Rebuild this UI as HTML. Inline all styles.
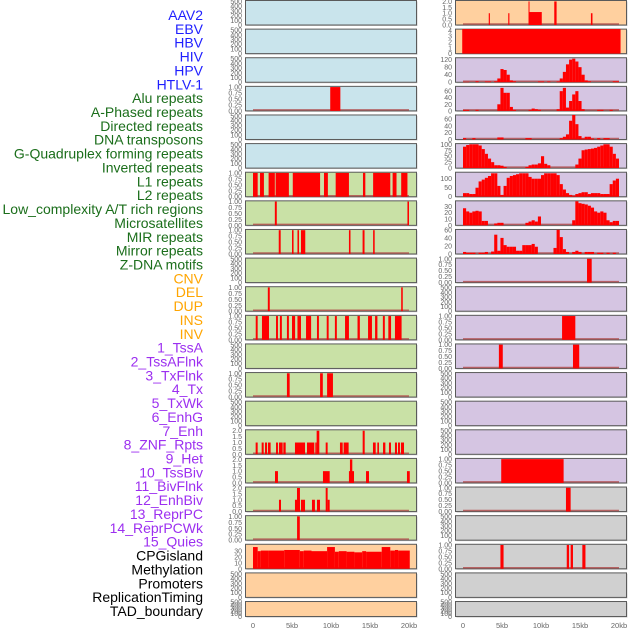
<!DOCTYPE html>
<html><head><meta charset="utf-8"><style>
html,body{margin:0;padding:0;background:#fff;width:630px;height:630px;overflow:hidden}
svg text{font-family:"Liberation Sans",sans-serif}
</style></head><body>
<svg id="c" width="630" height="630" viewBox="0 0 630 630" xmlns="http://www.w3.org/2000/svg"></svg>
<script>
// ---------- data ----------
const trackLabels = ["AAV2","EBV","HBV","HIV","HPV","HTLV-1","Alu repeats","A-Phased repeats","Directed repeats","DNA transposons","G-Quadruplex forming repeats","Inverted repeats","L1 repeats","L2 repeats","Low_complexity A/T rich regions","Microsatellites","MIR repeats","Mirror repeats","Z-DNA motifs","CNV","DEL","DUP","INS","INV","1_TssA","2_TssAFlnk","3_TxFlnk","4_Tx","5_TxWk","6_EnhG","7_Enh","8_ZNF_Rpts","9_Het","10_TssBiv","11_BivFlnk","12_EnhBiv","13_ReprPC","14_ReprPCWk","15_Quies","CPGisland","Methylation","Promoters","ReplicationTiming","TAD_boundary"];
const labelGroups = ["virus","virus","virus","virus","virus","virus","repeat","repeat","repeat","repeat","repeat","repeat","repeat","repeat","repeat","repeat","repeat","repeat","repeat","sv","sv","sv","sv","sv","chrom","chrom","chrom","chrom","chrom","chrom","chrom","chrom","chrom","chrom","chrom","chrom","chrom","chrom","chrom","other","other","other","other","other"];
const xTickKb = [0,5,10,15,20];
const xTickLabels = ["0","5kb","10kb","15kb","20kb"];
const ticksEmpty = ["0","100","200","300","400","500"];
const ticks01 = ["0.00","0.25","0.50","0.75","1.00"];
const ticks02 = ["0.0","0.5","1.0","1.5","2.0"];

// segments: [startKb, endKb, value]
const segL4 = [[9.9,11.2,1]];
const segL7 = [[0,0.6,1],[0.9,1.4,1],[2.0,2.8,1],[2.9,4.6,1],[5.1,8.6,1],[9.1,9.6,1],[10.6,12.3,1],[14.1,14.4,1],[15.4,17.6,1],[17.9,18.4,1],[19.0,19.8,1]];
const segL8 = [[2.8,3.05,1],[19.8,20.0,1]];
const segL9 = [[3.3,3.55,1],[5.0,5.2,1],[5.7,5.9,1],[6.15,6.7,1],[12.3,12.5,1],[14.05,14.3,1],[15.4,15.6,1]];
const segL11 = [[1.9,2.15,1],[19.0,19.2,1]];
const segL12 = [[0.35,0.6,1],[1.15,2.05,1],[2.95,3.2,1],[3.45,3.7,1],[4.35,4.6,1],[5.0,5.4,1],[5.7,6.15,1],[6.8,7.45,1],[8.2,8.45,1],[9.45,9.7,1],[10.5,10.75,1],[11.8,12.3,1],[13.4,13.7,1],[14.75,15.25,1],[15.65,15.95,1],[16.65,16.9,1],[17.35,17.7,1],[18.2,19.05,1]];
const segL14 = [[4.35,4.7,1],[8.6,8.95,1],[9.5,10.25,1]];
const segL16 = [[0.34,0.6,1],[1.11,1.37,1],[1.54,1.8,1],[1.92,2.26,1],[2.95,3.2,1],[3.33,3.8,1],[3.89,4.19,1],[5.38,6.67,1],[6.92,7.86,1],[7.99,8.16,1],[8.16,8.5,2],[9.32,9.57,1],[11.15,11.5,1],[11.62,12.26,1],[14.06,14.32,2],[15.38,15.73,1],[15.94,16.15,1],[16.67,16.97,1],[17.43,17.69,1],[18.2,18.46,1],[18.59,18.84,1],[18.97,19.36,1]];
const segL17 = [[2.82,3.2,1],[8.97,9.83,1],[12.3,12.95,1],[12.43,12.73,2],[14.49,14.87,1],[19.74,20.1,1]];
const segL18 = [[3.33,3.59,1],[5.38,6.02,1],[5.64,6.02,2],[6.15,6.67,1],[7.56,7.94,1],[8.2,8.59,1],[9.32,9.57,2],[9.57,9.83,1]];
const segL19 = [[5.65,6.0,1]];
const segL20 = [[0,0.6,37],[0.6,1.0,30],[1.0,2.0,31],[2.0,4.0,31],[4.0,6.0,32],[6.0,6.5,30],[6.5,7.5,31],[7.5,9.5,30],[9.5,10.5,37],[10.5,11.0,29],[11.0,12.0,30],[12.0,13.0,29],[13.0,14.0,28],[14.0,14.5,30],[14.5,16.5,29],[16.5,17.6,37],[17.6,18.2,31],[18.2,18.6,32],[18.6,20.1,31]];
const segR1 = [[3.3,3.45,1],[5.8,5.95,1],[8.4,8.5,2],[8.5,10.1,1.1],[11.7,12.0,2],[16.4,16.6,1]];
const segR2 = [[-0.1,20.2,4.2]];
const segR10 = [[15.9,16.5,1]];
const segR12 = [[12.7,14.4,1]];
const segR13 = [[4.6,5.1,1],[14.1,14.9,1]];
const segR17 = [[4.9,12.9,1]];
const segR18 = [[13.2,13.8,1]];
const segR20 = [[4.8,5.2,1],[13.3,13.6,1],[13.8,14.1,1],[15.3,15.7,1]];

// histogram bins (0.4kb each, 0-20kb)
const binR3 = [2,2,0,0,5,0,0,4,4,0,5,20,70,65,40,10,5,0,0,0,0,0,0,0,4,4,0,4,0,0,4,20,55,95,120,125,110,80,40,10,5,0,0,0,0,0,0,0,5,5];
const binR4 = [3,3,0,0,3,0,0,0,0,0,0,20,70,55,55,12,3,0,0,0,0,3,7,5,3,0,0,0,0,0,5,60,70,10,30,50,60,30,5,0,0,0,0,3,3,0,0,3,0,0];
const binR5 = [4,0,0,4,0,0,0,0,0,0,0,6,6,0,0,0,0,0,0,0,4,4,0,0,0,0,0,0,0,0,0,4,8,15,55,72,45,10,3,8,8,3,0,4,0,4,4,0,0,0];
const binR6 = [90,97,100,100,100,95,80,60,40,25,12,12,10,5,0,0,0,0,0,0,5,12,15,15,20,50,18,12,0,0,0,0,0,0,0,0,15,40,75,78,80,82,85,90,95,100,100,90,60,40];
const binR7 = [20,20,15,15,50,85,95,105,115,130,130,60,10,60,105,115,120,125,130,130,130,110,100,100,100,120,130,130,130,130,120,70,40,20,10,5,15,20,25,25,15,20,20,20,15,15,15,70,90,100];
const binR8 = [27,22,20,22,23,22,7,7,0,0,3,4,4,0,0,0,0,0,0,0,4,6,8,6,14,0,0,0,0,0,0,0,0,0,0,8,38,35,34,33,31,28,22,20,22,20,8,5,7,7];
const binR9 = [5,3,3,3,0,3,3,5,0,6,48,8,40,22,18,18,18,8,8,22,22,22,25,18,0,0,0,0,0,15,60,42,12,5,0,5,8,5,0,5,5,5,0,3,3,0,3,0,3,0];
const binWidthKb = 0.4;

const BG = {blue:"#c9e4ec",green:"#c9e1a6",orange:"#ffd09f",purple:"#d5c5e2",gray:"#d0d0d0"};
const panels = [
 ["L",0,"blue",ticksEmpty,520,null,null],["L",1,"blue",ticksEmpty,520,null,null],["L",2,"blue",ticksEmpty,520,null,null],
 ["L",3,"blue",ticks01,1.03,segL4,null],["L",4,"blue",ticksEmpty,520,null,null],["L",5,"blue",ticksEmpty,520,null,null],
 ["L",6,"green",ticks01,1.03,segL7,null],["L",7,"green",ticks01,1.03,segL8,null],["L",8,"green",ticks01,1.03,segL9,null],
 ["L",9,"green",ticksEmpty,520,null,null],["L",10,"green",ticks01,1.03,segL11,null],["L",11,"green",ticks01,1.03,segL12,null],
 ["L",12,"green",ticksEmpty,520,null,null],["L",13,"green",ticks01,1.03,segL14,null],["L",14,"green",ticksEmpty,520,null,null],
 ["L",15,"green",ticks02,2.08,segL16,null],["L",16,"green",ticks02,2.08,segL17,null],["L",17,"green",ticks02,2.08,segL18,null],
 ["L",18,"green",ticks01,1.03,segL19,null],["L",19,"orange",["0","10","20","30"],41.7,segL20,null],
 ["L",20,"orange",ticksEmpty,520,null,null],["L",21,"orange",ticksEmpty,520,null,null],
 ["R",0,"orange",ticks02,2.08,segR1,null],["R",1,"orange",["0","1","2","3","4"],4.2,segR2,null],
 ["R",2,"purple",["0","40","80","120"],130,null,binR3],["R",3,"purple",["0","20","40","60"],74.6,null,binR4],
 ["R",4,"purple",["0","20","40","60"],72,null,binR5],["R",5,"purple",["0","25","50","75","100"],103,null,binR6],
 ["R",6,"purple",["0","50","100"],136,null,binR7],["R",7,"purple",["0","10","20","30"],38.7,null,binR8],
 ["R",8,"purple",["0","20","40","60"],61,null,binR9],["R",9,"purple",ticks01,1.03,segR10,null],
 ["R",10,"purple",ticksEmpty,520,null,null],["R",11,"purple",ticks01,1.03,segR12,null],["R",12,"purple",ticks01,1.03,segR13,null],
 ["R",13,"purple",ticksEmpty,520,null,null],["R",14,"purple",ticksEmpty,520,null,null],["R",15,"purple",ticksEmpty,520,null,null],
 ["R",16,"purple",ticks01,1.03,segR17,null],["R",17,"gray",ticks01,1.03,segR18,null],["R",18,"gray",ticksEmpty,520,null,null],
 ["R",19,"gray",ticks01,1.03,segR20,null],["R",20,"gray",ticksEmpty,520,null,null],["R",21,"gray",ticksEmpty,520,null,null]
];

// ---------- drawing ----------
const NS="http://www.w3.org/2000/svg";
const svg=document.getElementById("c");
function mk(tag,attrs,parent){const e=document.createElementNS(NS,tag);for(const k in attrs)e.setAttribute(k,attrs[k]);(parent||svg).appendChild(e);return e;}
const GROUP_COLOR={virus:"#1f1fff",repeat:"#1b6e1b",sv:"#ffa500",chrom:"#9c2ff0",other:"#000"};

trackLabels.forEach((t,i)=>{
  const el=mk("text",{x:203,y:15+i*13.86+5,"text-anchor":"end","font-size":"14",fill:GROUP_COLOR[labelGroups[i]]});
  el.textContent=t;
  
  
});

const COLX={L:{px:245.5,x0:253},R:{px:455.5,x0:463}};
const PW=171, KBPX=7.8, ROWSTEP=28.62;
function xScale(col,kb){return COLX[col].x0+kb*KBPX;}

panels.forEach(p=>{
  const [col,row,bg,ticks,ymax,segs,bins]=p;
  const top=0.5+row*ROWSTEP;
  const h=row===21?15:24.5;
  const bottom=top+h;
  const yS=v=>bottom-(v/ymax)*h;
  const g=mk("g",{});
  
  
  mk("rect",{x:COLX[col].px+1,y:top+1,width:PW,height:h,fill:"#999","opacity":"0.5"},g);
  mk("rect",{x:COLX[col].px,y:top,width:PW,height:h,fill:BG[bg],stroke:"#5a5a5a","stroke-width":1},g);
  const tx=col==="L"?242:452;
  ticks.forEach((t,i)=>{
    const v=parseFloat(t);
    const el=mk("text",{x:tx,y:yS(v)+2.5,"text-anchor":"end","font-size":"7",fill:"#666"},g);
    el.textContent=t;
    
    
  });
  if(segs||bins){
    mk("line",{x1:xScale(col,0),x2:xScale(col,20),y1:bottom-1,y2:bottom-1,stroke:"#b04848","stroke-width":1.5,"opacity":"0.8"},g);
  }
  if(segs){
    segs.forEach(s=>{
      const r=mk("rect",{x:xScale(col,s[0]),y:yS(s[2]),width:Math.max(1,(s[1]-s[0])*KBPX),height:bottom-yS(s[2]),fill:"#ff0000"},g);
      
      
    });
  }
  if(bins){
    bins.forEach((v,i)=>{
      if(v<=0)return;
      const r=mk("rect",{x:xScale(col,i*binWidthKb),y:yS(v),width:binWidthKb*KBPX,height:bottom-yS(v),fill:"#ff0000"},g);
      
      
    });
  }
});

["L","R"].forEach(col=>{
  xTickKb.forEach((k,i)=>{
    const el=mk("text",{x:xScale(col,k),y:628,"text-anchor":"middle","font-size":"7.5",fill:"#666"});
    el.textContent=xTickLabels[i];
    
    
  });
});
</script>
</body></html>
